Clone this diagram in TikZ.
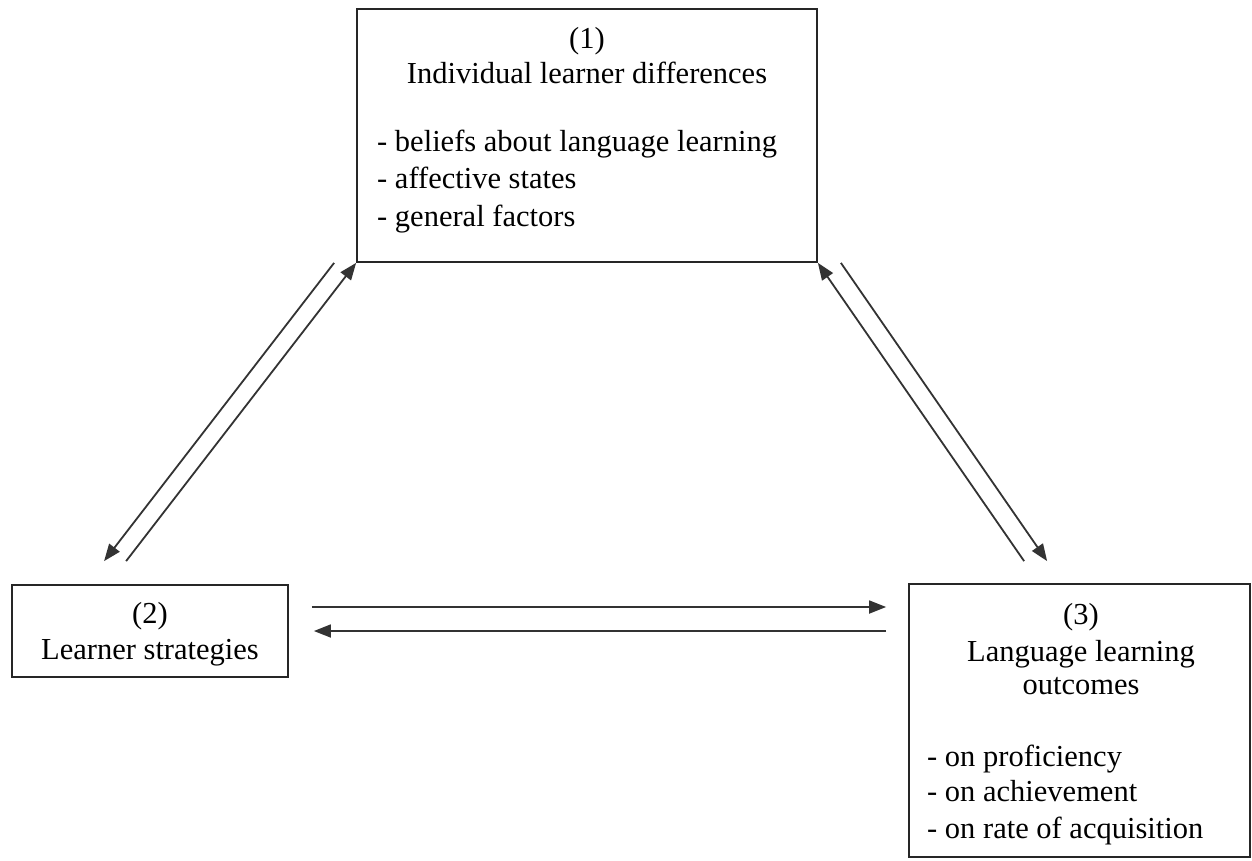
\documentclass[tikz,border=0pt]{standalone}
\usepackage{fontspec}
\setmainfont{Liberation Serif}
\usetikzlibrary{arrows.meta}
\begin{document}
\begin{tikzpicture}[x=1pt,y=-1pt,
  box/.style={draw=black!85, line width=1.8pt, fill=none, inner sep=0pt},
  txt/.style={inner sep=0pt, anchor=base, font=\fontsize{30.5}{36}\selectfont},
  txtl/.style={txt, anchor=base west},
  conn/.style={draw=black!80, line width=1.8pt, -{Triangle[length=17pt,width=13pt]}}]
\useasboundingbox[fill=white] (0,0) rectangle (1252,861);
% boxes
\node[box, minimum width=460pt, minimum height=253pt] (b1) at (587,135.5) {};
\node[box, minimum width=276pt, minimum height=92pt] (b2) at (150,631) {};
\node[box, minimum width=341pt, minimum height=273pt] (b3) at (1079.5,720.5) {};
% texts box 1
\node[txt] (t1a) at (587,49) {(1)};
\node[txt] (t1b) at (587,84) {Individual learner differences};
\node[txtl] (t1c) at (377,152) {- beliefs about language learning};
\node[txtl] (t1d) at (377,189) {- affective states};
\node[txtl] (t1e) at (377,226) {- general factors};
% texts box 2
\node[txt] (t2a) at (150,623) {(2)};
\node[txt] (t2b) at (150,659) {Learner strategies};
% texts box 3
\node[txt] (t3a) at (1081,624) {(3)};
\node[txt] (t3b) at (1081,661) {Language learning};
\node[txt] (t3c) at (1081,694) {outcomes};
\node[txtl] (t3d) at (927,766) {- on proficiency};
\node[txtl] (t3e) at (927,801) {- on achievement};
\node[txtl] (t3f) at (927,838) {- on rate of acquisition};
% connectors
\draw[conn] ([xshift=-22pt]b1.south west) -- ([xshift=93pt,yshift=23pt]b2.north west);
\draw[conn] ([xshift=115pt,yshift=23pt]b2.north west) -- (b1.south west);
\draw[conn] ([xshift=116pt,yshift=22pt]b3.north west) -- (b1.south east);
\draw[conn] ([xshift=23pt]b1.south east) -- ([xshift=139pt,yshift=22pt]b3.north west);
\coordinate (e1) at ([xshift=23pt,yshift=24pt]b2.east);
\coordinate (e2) at (b3.west |- e1);
\coordinate (f1) at ([xshift=25pt]b2.east);
\coordinate (f2) at (b3.west |- f1);
\draw[conn] (e1) -- ([xshift=-22pt]e2);
\draw[conn] ([xshift=-22pt]f2) -- (f1);
\end{tikzpicture}
\end{document}
